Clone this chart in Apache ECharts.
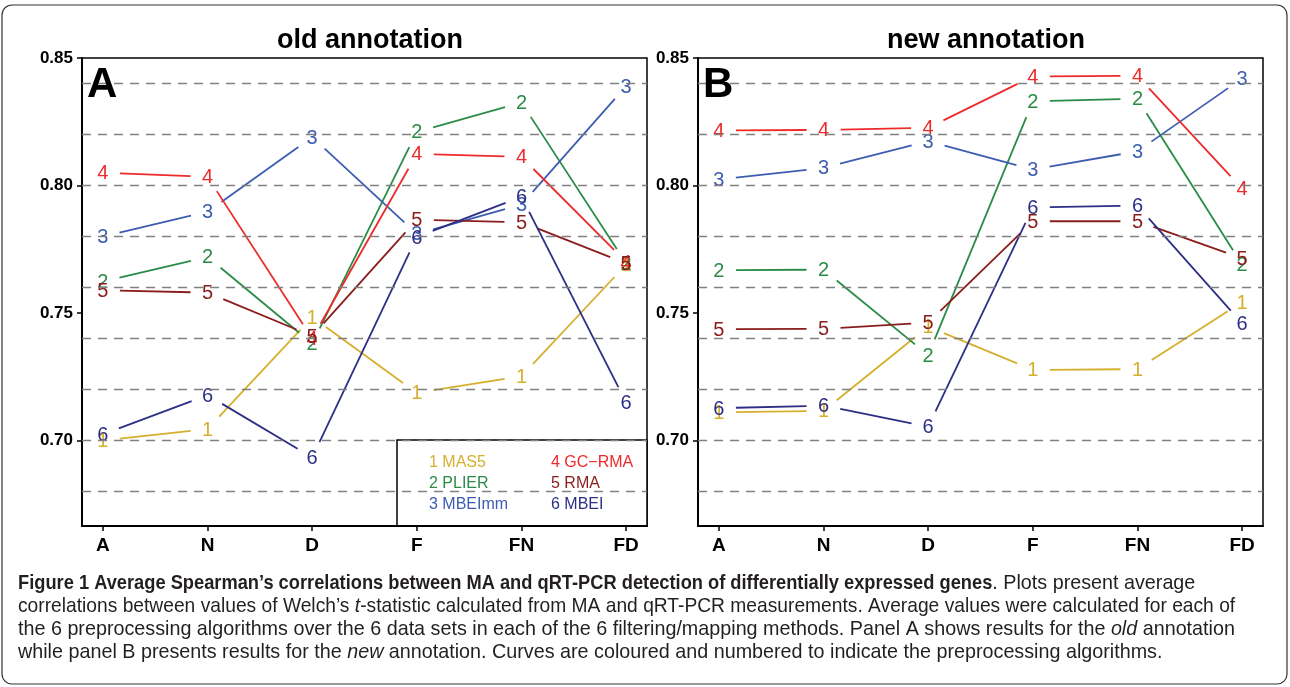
<!DOCTYPE html>
<html>
<head>
<meta charset="utf-8">
<script src="https://cdn.jsdelivr.net/npm/echarts@6/dist/echarts.min.js"></script>
<style>
  html, body { margin: 0; padding: 0; background: #fff; }
  #main { width: 1290px; height: 687px; }
</style>
</head>
<body>
<div id="main"></div>
<script>
// categories (filtering / mapping methods)
var categories = ['A', 'N', 'D', 'F', 'FN', 'FD'];
var algoNames = ['MAS5', 'PLIER', 'MBEImm', 'GC\u2212RMA', 'RMA', 'MBEI'];
var yTicks = [0.70, 0.75, 0.80, 0.85];
var gridLines = [0.68, 0.70, 0.72, 0.74, 0.76, 0.78, 0.80, 0.82, 0.84];

// panel A - old annotation
var mas5Old   = [0.700, 0.7045, 0.7484, 0.7187, 0.7252, 0.769];
var plierOld  = [0.7624, 0.772, 0.738, 0.821, 0.8325, 0.7695];
var mbeimmOld = [0.780, 0.7897, 0.819, 0.781, 0.7925, 0.839];
var gcrmaOld  = [0.805, 0.8034, 0.740, 0.8124, 0.8112, 0.770];
var rmaOld    = [0.7589, 0.758, 0.741, 0.7866, 0.7856, 0.7695];
var mbeiOld   = [0.7024, 0.7178, 0.6934, 0.7798, 0.7956, 0.715];

// panel B - new annotation
var mas5New   = [0.7111, 0.7116, 0.7447, 0.7277, 0.728, 0.7543];
var plierNew  = [0.7668, 0.767, 0.7335, 0.833, 0.834, 0.769];
var mbeimmNew = [0.8024, 0.8069, 0.8174, 0.8063, 0.8134, 0.842];
var gcrmaNew  = [0.8216, 0.8218, 0.8226, 0.8428, 0.843, 0.7988];
var rmaNew    = [0.7437, 0.7438, 0.7462, 0.786, 0.786, 0.7715];
var mbeiNew   = [0.7127, 0.7137, 0.7054, 0.7914, 0.7921, 0.746];

var colors = ['#D5B02F', '#2A8C46', '#3D5DB0', '#EE2A2A', '#8B1C1C', '#2C2F85'];
var FONT = 'Liberation Sans';
var GAP = 17;

var chart = echarts.init(document.getElementById('main'), null, {renderer: 'canvas'});

// one series = numbered points joined by lines that stop short of the labels
function makeSeries(vals, idx, gi) {
	var color = colors[idx];
	return {
		type: 'custom',
		name: algoNames[idx],
		xAxisIndex: gi,
		yAxisIndex: gi,
		silent: true,
		animation: false,
		clip: false,
		z: 3,
		data: vals.map(function(v, i){ return [i + 1, v]; }),
		renderItem: function(params, api){
			var i = params.dataIndex;
			var p = api.coord([i + 1, vals[i]]);
			var kids = [{
				type: 'text', x: p[0], y: p[1] + 1,
				style: {text: String(idx + 1), fill: color, fontSize: 20, fontFamily: FONT, align: 'center', verticalAlign: 'middle'}
			}];
			if(i < vals.length - 1){
				var q = api.coord([i + 2, vals[i + 1]]);
				var dx = q[0] - p[0], dy = q[1] - p[1];
				var len = Math.sqrt(dx * dx + dy * dy);
				var ux = dx / len, uy = dy / len;
				kids.push({
					type: 'line',
					shape: {x1: p[0] + ux * GAP, y1: p[1] + uy * GAP, x2: q[0] - ux * GAP, y2: q[1] - uy * GAP},
					style: {stroke: color, lineWidth: 1.8}
				});
			}
			return {type: 'group', children: kids};
		}
	};
}

// dashed reference lines
function gridSeries(gi) {
	return {
		type: 'line',
		xAxisIndex: gi,
		yAxisIndex: gi,
		data: [[1, 0.75], [6, 0.75]],
		showSymbol: false,
		silent: true,
		animation: false,
		lineStyle: {opacity: 0},
		z: 1,
		markLine: {
			silent: true,
			symbol: ['none', 'none'],
			animation: false,
			label: {show: false},
			lineStyle: {type: [9, 7], color: '#808080', width: 1.4},
			data: gridLines.map(function(v){ return {yAxis: v}; })
		}
	};
}

function xAxisCfg(gi) {
	return {
		type: 'value', gridIndex: gi, min: 0.8, max: 6.2,
		splitLine: {show: false},
		axisLine: {show: true, onZero: false, lineStyle: {color: '#000', width: 2}},
		axisTick: {show: true, length: 5, customValues: [1, 2, 3, 4, 5, 6], lineStyle: {color: '#000', width: 1.5}},
		axisLabel: {
			customValues: [1, 2, 3, 4, 5, 6], margin: 10,
			color: '#000', fontSize: 19, fontWeight: 'bold', fontFamily: FONT,
			formatter: function(v){ return categories[Math.round(v) - 1]; }
		}
	};
}

function yAxisCfg(gi) {
	return {
		type: 'value', gridIndex: gi, min: 0.6665, max: 0.85,
		splitLine: {show: false},
		axisLine: {show: true, onZero: false, lineStyle: {color: '#000', width: 2}},
		axisTick: {show: true, length: 5, customValues: yTicks, lineStyle: {color: '#000', width: 1.5}},
		axisLabel: {
			customValues: yTicks, margin: 9,
			color: '#000', fontSize: 17, fontWeight: 'bold', fontFamily: FONT,
			formatter: function(v){ return v.toFixed(2); }
		}
	};
}

var seriesList = [gridSeries(0), gridSeries(1)];
[mas5Old, plierOld, mbeimmOld, gcrmaOld, rmaOld, mbeiOld].forEach(function(arr, k){
	seriesList.push(makeSeries(arr, k, 0));
});
[mas5New, plierNew, mbeimmNew, gcrmaNew, rmaNew, mbeiNew].forEach(function(arr, k){
	seriesList.push(makeSeries(arr, k, 1));
});

// legend box (panel A)
var legendKids = [{
	type: 'rect', shape: {x: 397, y: 440, width: 250, height: 86},
	style: {fill: '#fff', stroke: '#000', lineWidth: 1.5}
}];
for(var k = 0; k < 6; k++){
	legendKids.push({
		type: 'text',
		x: k < 3 ? 429 : 551,
		y: 463 + (k % 3) * 21,
		style: {text: (k + 1) + ' ' + algoNames[k], fill: colors[k], fontSize: 16, fontFamily: FONT, verticalAlign: 'middle'}
	});
}

// caption (narrow look: sans squeezed horizontally)
var capRich = {
	n: {fontSize: 21, fontFamily: FONT, fill: '#231F20'},
	b: {fontSize: 21, fontFamily: FONT, fontWeight: 'bold', fill: '#231F20'},
	i: {fontSize: 21, fontFamily: FONT, fontStyle: 'italic', fill: '#231F20'}
};
var capBold = 'Figure 1 Average Spearman\u2019s correlations between MA and qRT-PCR detection of differentially expressed genes';
var capLines = [
	'{n|. Plots present average}',
	'{n|correlations between values of Welch\u2019s }{i|t}{n|-statistic calculated from MA and qRT-PCR measurements. Average values were calculated for each of}',
	'{n|the 6 preprocessing algorithms over the 6 data sets in each of the 6 filtering/mapping methods. Panel A shows results for the }{i|old}{n| annotation}',
	'{n|while panel B presents results for the }{i|new}{n| annotation. Curves are coloured and numbered to indicate the preprocessing algorithms.}'
];
var capScales = [0.94, 0.915, 0.94, 0.94];
var boldScale = 0.87;
var ctx = document.createElement('canvas').getContext('2d');
ctx.font = 'bold 21px "Liberation Sans"';
var boldW = ctx.measureText(capBold).width * boldScale;

var captionKids = [{
	type: 'text', x: 18, y: 583, scaleX: boldScale,
	style: {text: capBold, fontSize: 21, fontFamily: FONT, fontWeight: 'bold', fill: '#231F20', verticalAlign: 'middle'}
}];
capLines.forEach(function(t, j){
	captionKids.push({
		type: 'text', x: j === 0 ? 18 + boldW : 18, y: 583 + j * 23, scaleX: capScales[j],
		style: {text: t, rich: capRich, verticalAlign: 'middle'}
	});
});

var option = {
	backgroundColor: '#fff',
	animation: false,
	title: [
		{text: 'old annotation', left: 365, top: 22, textAlign: 'center',
			textStyle: {fontSize: 27, fontWeight: 'bold', color: '#000', fontFamily: FONT}},
		{text: 'new annotation', left: 981, top: 22, textAlign: 'center',
			textStyle: {fontSize: 27, fontWeight: 'bold', color: '#000', fontFamily: FONT}}
	],
	grid: [
		{left: 82, top: 58, width: 565, height: 468, show: true, borderColor: '#000', borderWidth: 1.5, backgroundColor: 'transparent'},
		{left: 698, top: 58, width: 565, height: 468, show: true, borderColor: '#000', borderWidth: 1.5, backgroundColor: 'transparent'}
	],
	xAxis: [xAxisCfg(0), xAxisCfg(1)],
	yAxis: [yAxisCfg(0), yAxisCfg(1)],
	series: seriesList,
	graphic: [
		{type: 'rect', shape: {x: 2, y: 5, width: 1285, height: 679, r: 10}, style: {fill: 'none', stroke: '#333', lineWidth: 1.2}, silent: true},
		{type: 'text', x: 87, y: 85, style: {text: 'A', fontSize: 42, fontWeight: 'bold', fontFamily: FONT, fill: '#000', verticalAlign: 'middle'}, z: 10},
		{type: 'text', x: 703, y: 85, style: {text: 'B', fontSize: 42, fontWeight: 'bold', fontFamily: FONT, fill: '#000', verticalAlign: 'middle'}, z: 10},
		{type: 'group', children: legendKids, z: 20},
		{type: 'group', children: captionKids}
	]
};
chart.setOption(option);
</script>
</body>
</html>
